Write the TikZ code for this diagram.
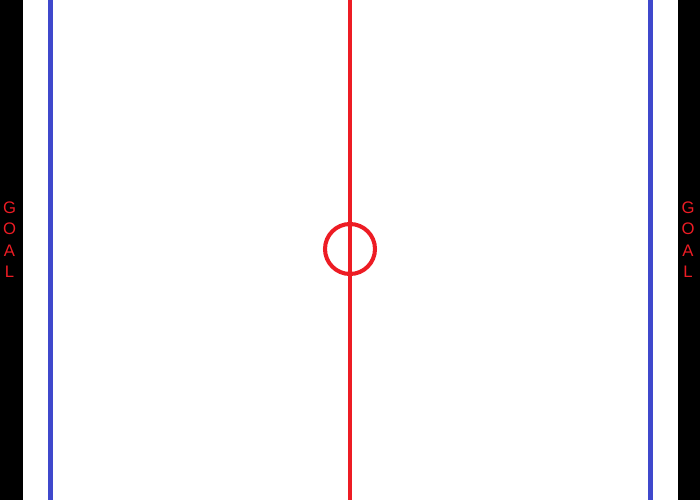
\documentclass[tikz,border=0pt]{standalone}
\usepackage{fontspec}
\setmainfont{Liberation Sans}
\definecolor{rinkred}{RGB}{237,28,36}
\definecolor{rinkblue}{RGB}{63,72,204}
\begin{document}
\begin{tikzpicture}[x=0.02cm,y=-0.02cm]
			\useasboundingbox (0,0) rectangle (700,500);
			\fill[white] (0,0) rectangle (700,500);
			\fill[black] (0,0) rectangle (23,500);
			\fill[black] (678,0) rectangle (700,500);
			\draw[rinkblue, line width=2.8pt] (50.5,0) -- (50.5,500);
			\draw[rinkblue, line width=2.8pt] (650.5,0) -- (650.5,500);
			\draw[rinkred, line width=2.8pt] (350,0) -- (350,500);
			\draw[rinkred, line width=2.3pt] (350,249) circle (25);
			\node[rinkred, font=\fontsize{9.5}{12.2}\selectfont, align=center] (goalleft) at (9.5,239.5) {G\\O\\A\\L};
			\node[rinkred, font=\fontsize{9.5}{12.2}\selectfont, align=center] (goalright) at (688,239.5) {G\\O\\A\\L};
		\end{tikzpicture}
\end{document}
